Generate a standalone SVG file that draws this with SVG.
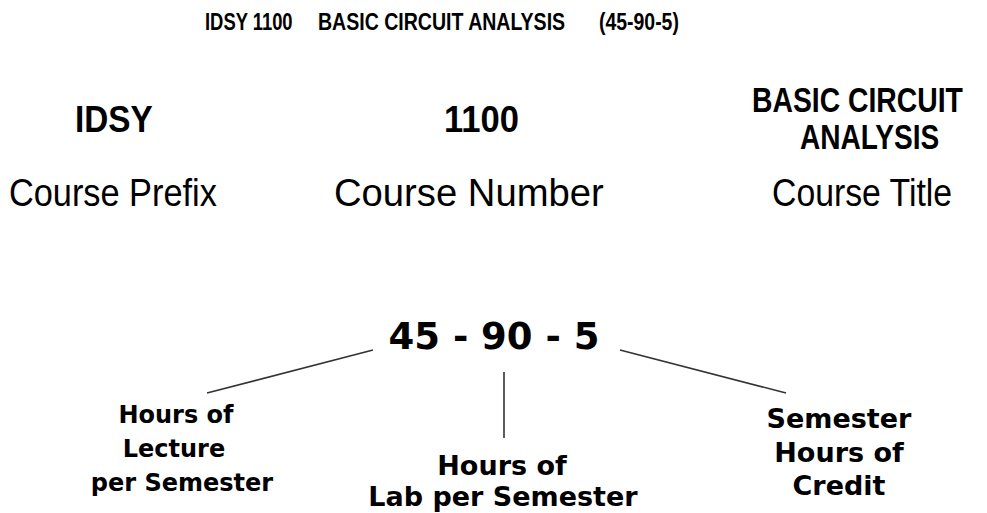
<svg xmlns="http://www.w3.org/2000/svg" width="987" height="513" viewBox="0 0 987 513">
<style>
.t{font-family:"Liberation Sans",Arial,sans-serif;font-weight:bold;font-size:23px;fill:#000}
.b{font-family:"Liberation Sans",Arial,sans-serif;font-weight:bold;font-size:37px;fill:#000}
.h{font-size:36px}
.r{font-family:"Liberation Sans",Arial,sans-serif;font-size:39px;fill:#000}
.v{font-family:"DejaVu Sans",Verdana,sans-serif;font-weight:bold;font-size:27px;fill:#000;text-anchor:middle}
.s{font-size:24px}
.n{font-family:"DejaVu Sans",Verdana,sans-serif;font-weight:bold;font-size:37px;fill:#000;text-anchor:middle}
.c{stroke:#333;stroke-width:1.6;fill:none}
</style>
<rect width="987" height="513" fill="#fff"/>
<g id="title">
<text class="t" transform="translate(205,30) scale(0.80,1)">IDSY 1100</text>
<text class="t" transform="translate(318,30) scale(0.85,1)">BASIC CIRCUIT ANALYSIS</text>
<text class="t" transform="translate(599,30) scale(0.845,1)">(45-90-5)</text>
</g>
<g id="prefix">
<text class="b" transform="translate(75,132) scale(0.9,1)">IDSY</text>
<text class="r" transform="translate(9,206) scale(0.88,1)">Course Prefix</text>
</g>
<g id="number">
<text class="b" transform="translate(444,132) scale(0.935,1)">1100</text>
<text class="r" transform="translate(334,206) scale(0.98,1)">Course Number</text>
</g>
<g id="title-col">
<text class="b h" transform="translate(752,112) scale(0.787,1)">BASIC CIRCUIT</text>
<text class="b h" transform="translate(800,149) scale(0.78,1)">ANALYSIS</text>
<text class="r" transform="translate(772,206) scale(0.866,1)">Course Title</text>
</g>
<g id="code">
<text class="n" x="494" y="349">45 - 90 - 5</text>
</g>
<g id="lecture">
<text class="v s" x="176" y="423">Hours of</text>
<text class="v s" x="174" y="457">Lecture</text>
<text class="v s" x="182" y="491">per Semester</text>
</g>
<g id="lab">
<text class="v" x="502" y="475">Hours of</text>
<text class="v" x="503" y="506">Lab per Semester</text>
</g>
<g id="credit">
<text class="v" x="839" y="428">Semester</text>
<text class="v" x="839" y="462">Hours of</text>
<text class="v" x="839" y="495">Credit</text>
</g>
<g id="connectors">
<line class="c" x1="207" y1="393" x2="373" y2="350"/>
<line class="c" x1="504" y1="372" x2="504" y2="438"/>
<line class="c" x1="620" y1="350" x2="786" y2="393"/>
</g>
</svg>
